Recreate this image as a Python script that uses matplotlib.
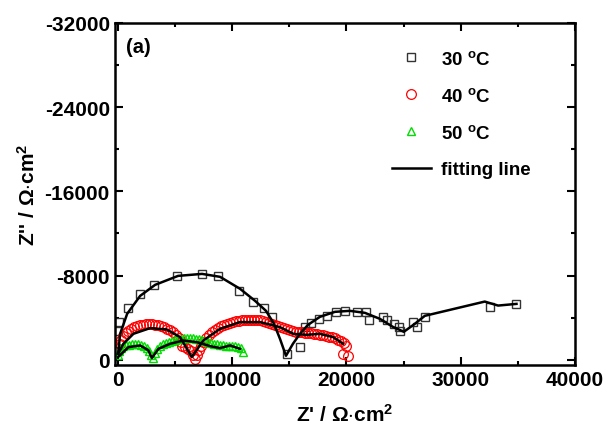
import matplotlib
matplotlib.use("Agg")
import matplotlib.pyplot as plt
from matplotlib.ticker import MultipleLocator

plt.rcParams['font.family'] = ['Liberation Sans', 'DejaVu Sans']
plt.rcParams['font.weight'] = 'bold'
plt.rcParams['axes.unicode_minus'] = False
plt.rcParams['mathtext.fontset'] = 'custom'
plt.rcParams['mathtext.rm'] = 'Liberation Sans:bold'
plt.rcParams['mathtext.bf'] = 'Liberation Sans:bold'
plt.rcParams['mathtext.it'] = 'Liberation Sans:bold:italic'

# 30 oC measured points
x30 = [0, 30, 100, 900, 1925, 3175, 5190, 7320, 8720, 10610, 11840, 12775, 13450, 14760,
       15900, 16360, 16890, 17590, 18260, 19050, 19860, 20940, 21700, 21960, 23160, 23560,
       24150, 24610, 24680, 25840, 26140, 26860, 32550, 34890]
y30 = [-850, -2780, -3580, -4900, -6260, -7120, -7940, -8160, -7940, -6580, -5480, -4900, -4050, -570,
       -1200, -3100, -3510, -3890, -4200, -4530, -4620, -4530, -4530, -3820, -4050, -3800,
       -3420, -3100, -2720, -3630, -3100, -4050, -5060, -5310]
# 30 oC fitting line
fx30 = [0, 175, 790, 1925, 3240, 5250, 7350, 8925, 10680, 11990, 12950, 13650, 14175, 14700,
        15310, 15925, 16625, 17675, 18990, 20300, 21610, 22925, 24060, 25025, 25990, 26860,
        32110, 33280, 34890]
fy30 = [-570, -2470, -4370, -6070, -7120, -7970, -8160, -7880, -6740, -5600, -4650, -3420, -1990, -380,
        -1520, -2470, -3320, -4080, -4555, -4650, -4460, -3890, -3130, -2660, -3420, -4175,
        -5530, -5150, -5310]

# 40 oC measured points
x40 = [0, 131, 263, 438, 656, 875, 1138, 1400, 1663, 1925, 2188, 2450, 2713, 2975, 3238,
       3500, 3763, 4025, 4288, 4550, 4813, 5075, 5294, 5469, 5600, 5863, 6125, 6344, 6563,
       6738, 6913, 7088, 7219, 7438, 7700, 7963, 8225, 8488, 8750, 9013, 9275, 9538, 9800,
       10063, 10325, 10588, 10850, 11113, 11375, 11638, 11900, 12163, 12425, 12688, 12950,
       13213, 13475, 13738, 14000, 14263, 14525, 14788, 15050, 15313, 15575, 15838, 16100,
       16363, 16625, 16888, 17150, 17413, 17675, 17938, 18200, 18463, 18725, 18988, 19250,
       19513, 19775, 19994, 19731, 20125]
y40 = [-1044, -1518, -1898, -2230, -2515, -2752, -2942, -3084, -3179, -3274, -3322, -3369, -3369,
       -3369, -3322, -3274, -3179, -3084, -2942, -2800, -2610, -2373, -2088, -1708, -1329, -1186,
       -1044, -854, -475, -95, -475, -949, -1329, -1708, -2088, -2373, -2610, -2847, -3037, -3179,
       -3322, -3416, -3511, -3606, -3654, -3701, -3749, -3749, -3796, -3796, -3796, -3749, -3749,
       -3701, -3606, -3511, -3416, -3274, -3179, -3084, -2989, -2895, -2800, -2705, -2657, -2610,
       -2610, -2562, -2562, -2515, -2467, -2420, -2373, -2325, -2278, -2183, -2135, -2040, -1898,
       -1756, -1566, -1281, -569, -332]
fx40 = [0, 465, 1340, 2800, 4260, 5425, 6450, 7460, 8925, 10675, 12425, 14175, 15340, 16510,
        17675, 18840, 19710]
fy40 = [-570, -1520, -2470, -3010, -2880, -2150, -260, -1830, -2940, -3580, -3580, -3100, -2470, -2370,
        -2470, -2150, -1520]

# 50 oC measured points
x50 = [0, 90, 260, 440, 700, 960, 1230, 1490, 1750, 2010, 2280, 2540, 2710, 2890, 3060, 3240,
       3410, 3680, 3940, 4200, 4460, 4730, 4990, 5250, 5510, 5780, 6040, 6300, 6560, 6830, 7090,
       7350, 7610, 7880, 8140, 8400, 8660, 8930, 9190, 9450, 9710, 9980, 10240, 10500, 10760, 10940]
y50 = [-470, -850, -1140, -1280, -1380, -1420, -1470, -1470, -1470, -1420, -1330, -1140, -850, -470,
       -190, -660, -1040, -1280, -1470, -1610, -1710, -1800, -1900, -1950, -1990, -2040, -2090, -2090,
       -2040, -1990, -1950, -1900, -1800, -1710, -1610, -1520, -1470, -1420, -1380, -1330, -1330,
       -1330, -1280, -1230, -1140, -760]
fx50 = [0, 900, 1925, 2650, 2950, 3530, 4550, 5710, 6880, 8050, 8925, 9800, 10675]
fy50 = [-260, -1200, -1360, -900, -160, -1040, -1520, -1830, -1680, -1300, -1110, -1360, -1040]

fig = plt.figure(figsize=(6.07, 4.35), dpi=100)
ax = fig.add_axes([0.189, 0.159, 0.758, 0.786])

ax.plot(x30, y30, ls='none', marker='s', ms=6, mfc='none', mec='#333333', mew=1.0, label=r'30 $^{\mathrm{o}}$C')
ax.plot(x40, y40, ls='none', marker='o', ms=7, mfc='none', mec='red', mew=0.9, label=r'40 $^{\mathrm{o}}$C')
ax.plot(x50, y50, ls='none', marker='^', ms=6, mfc='none', mec='#00dd00', mew=1.0, label=r'50 $^{\mathrm{o}}$C')
ax.plot(fx30, fy30, color='black', lw=1.8, label='fitting line')
ax.plot(fx40, fy40, color='black', lw=1.8)
ax.plot(fx50, fy50, color='black', lw=1.8)

ax.set_xlim(-300, 40000)
ax.set_ylim(480, -32000)
ax.xaxis.set_major_locator(MultipleLocator(10000))
ax.xaxis.set_minor_locator(MultipleLocator(5000))
ax.yaxis.set_major_locator(MultipleLocator(8000))
ax.yaxis.set_minor_locator(MultipleLocator(4000))
ax.tick_params(which='both', direction='in', top=True, right=True, width=1.5, labelsize=15)
ax.tick_params(which='major', length=6)
ax.tick_params(which='minor', length=3)
for s in ax.spines.values():
    s.set_linewidth(1.8)
for lab in ax.get_xticklabels() + ax.get_yticklabels():
    lab.set_fontweight('bold')

ax.set_xlabel(r"Z' / $\Omega$$\cdot$cm$^{\mathrm{2}}$", fontsize=15, fontweight='bold', labelpad=10)
ax.set_ylabel(r"Z'' / $\Omega$$\cdot$cm$^{\mathrm{2}}$", fontsize=15, fontweight='bold', labelpad=4)
ax.text(0.025, 0.96, '(a)', transform=ax.transAxes, fontsize=14.5, fontweight='bold', va='top')

leg = ax.legend(loc='upper left', bbox_to_anchor=(0.63, 0.905), bbox_transform=fig.transFigure,
                frameon=False, labelspacing=1.02, handlelength=2.1,
                handletextpad=0.5, borderpad=0, prop={'weight': 'bold', 'size': 13.5})

fig.savefig('out.png', dpi=100)
